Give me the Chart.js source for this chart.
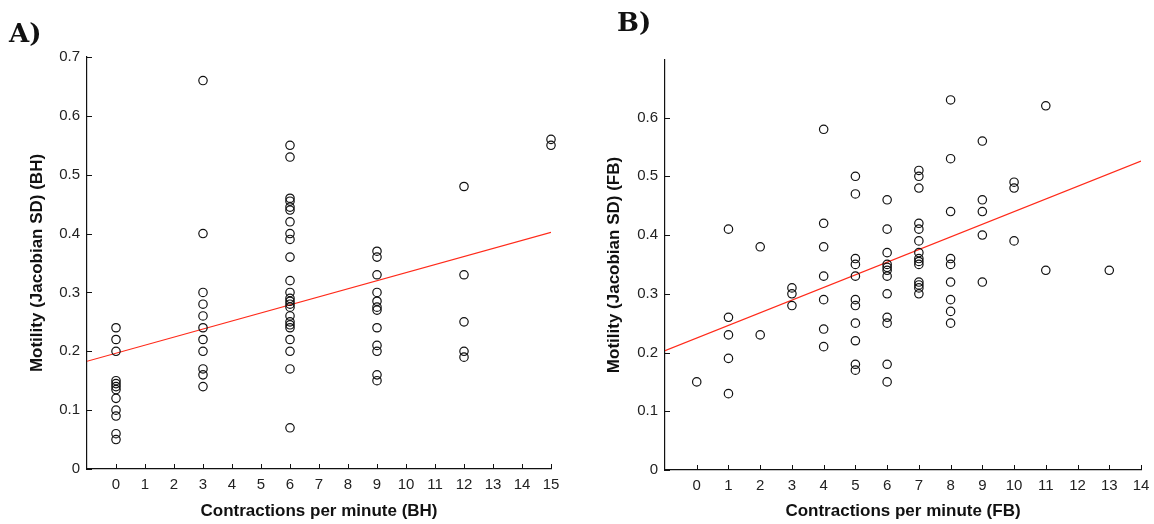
<!DOCTYPE html>
<html>
<head>
<meta charset="utf-8">
<script src="https://cdn.jsdelivr.net/npm/chart.js@4/dist/chart.umd.min.js"></script>
<style>
  body { margin: 0; background: #fff; }
  #wrap { position: relative; width: 1154px; height: 524px; overflow: hidden; }
  .box { position: absolute; top: 0; width: 577px; height: 524px; }
  .tag { position: absolute; font-family: "DejaVu Serif", serif; font-weight: bold; font-size: 26px; color: #111; }
</style>
</head>
<body>
<div id="wrap">
  <div class="box" style="left:0"><canvas id="chartBH"></canvas></div>
  <div class="box" style="left:577px"><canvas id="chartFB"></canvas></div>
  <div class="tag" style="left:9px; top:18px">A)</div>
  <div class="tag" style="left:617px; top:7px">B)</div>
</div>
<script>
// Panel A: contractions per minute (BH) vs motility
const bhX = [
  0,0,0,0,0,0,0,0,0,0,0,0,
  3,3,3,3,3,3,3,3,3,3,3,
  6,6,6,6,6,6,6,6,6,6,6,6,6,6,6,6,6,6,6,6,6,6,6,6,
  9,9,9,9,9,9,9,9,9,9,9,9,
  12,12,12,12,12,
  15,15
];
const bhY = [
  0.24,0.22,0.20,0.15,0.145,0.14,0.135,0.12,0.10,0.09,0.06,0.05,
  0.66,0.40,0.30,0.28,0.26,0.24,0.22,0.20,0.17,0.16,0.14,
  0.55,0.53,0.46,0.455,0.445,0.44,0.42,0.40,0.39,0.36,0.32,0.30,0.29,0.285,0.28,0.275,0.26,0.25,0.245,0.24,0.22,0.20,0.17,0.07,
  0.37,0.36,0.33,0.30,0.285,0.275,0.27,0.24,0.21,0.20,0.16,0.15,
  0.48,0.33,0.25,0.20,0.19,
  0.56,0.55
];
const bhFitX = [-1, 15];
const bhFitY = [0.183, 0.402];

// Panel B: contractions per minute (FB) vs motility
const fbX = [
  0,
  1,1,1,1,1,
  2,2,
  3,3,3,
  4,4,4,4,4,4,4,
  5,5,5,5,5,5,5,5,5,5,5,
  6,6,6,6,6,6,6,6,6,6,6,6,
  7,7,7,7,7,7,7,7,7,7,7,7,7,7,
  8,8,8,8,8,8,8,8,8,
  9,9,9,9,9,
  10,10,10,
  11,11,
  13
];
const fbY = [
  0.15,
  0.41,0.26,0.23,0.19,0.13,
  0.38,0.23,
  0.31,0.30,0.28,
  0.58,0.42,0.38,0.33,0.29,0.24,0.21,
  0.50,0.47,0.36,0.35,0.33,0.29,0.28,0.25,0.22,0.18,0.17,
  0.46,0.41,0.37,0.35,0.345,0.34,0.33,0.30,0.26,0.25,0.18,0.15,
  0.51,0.50,0.48,0.42,0.41,0.39,0.37,0.36,0.355,0.35,0.32,0.315,0.31,0.30,
  0.63,0.53,0.44,0.36,0.35,0.32,0.29,0.27,0.25,
  0.56,0.46,0.44,0.40,0.32,
  0.49,0.48,0.39,
  0.62,0.34,
  0.34
];
const fbFitX = [-1, 14];
const fbFitY = [0.203, 0.526];

const FONT = '"Liberation Sans", Arial, sans-serif';
const TICK_LEN = 5;

function pairs(xs, ys) {
  return xs.map((x, i) => ({ x: x, y: ys[i] }));
}

// matlab style tick marks pointing into the plot
const inwardTicks = {
  id: "inwardTicks",
  afterDraw(chart) {
    const ctx = chart.ctx;
    const xs = chart.scales.x;
    const ys = chart.scales.y;
    const area = chart.chartArea;
    ctx.save();
    ctx.strokeStyle = "#111";
    ctx.lineWidth = 1;
    ctx.beginPath();
    xs.ticks.forEach((t) => {
      const px = Math.round(xs.getPixelForValue(t.value)) + 0.5;
      ctx.moveTo(px, area.bottom);
      ctx.lineTo(px, area.bottom - TICK_LEN);
    });
    ys.ticks.forEach((t) => {
      const py = Math.round(ys.getPixelForValue(t.value)) + 0.5;
      ctx.moveTo(area.left, py);
      ctx.lineTo(area.left + TICK_LEN, py);
    });
    ctx.stroke();
    ctx.restore();
  }
};

function makeChart(id, opts) {
  const ctx = document.getElementById(id).getContext("2d");
  return new Chart(ctx, {
    type: "scatter",
    data: {
      datasets: [
        {
          data: pairs(opts.xs, opts.ys),
          pointStyle: "circle",
          pointRadius: 4.2,
          pointBorderWidth: 1.2,
          borderColor: "#111",
          backgroundColor: "rgba(0,0,0,0)",
          pointHoverRadius: 4.2,
          clip: false
        },
        {
          type: "line",
          data: pairs(opts.fitX, opts.fitY),
          borderColor: "#ff2a1a",
          borderWidth: 1.2,
          pointRadius: 0,
          fill: false
        }
      ]
    },
    plugins: [inwardTicks],
    options: {
      responsive: false,
      animation: false,
      maintainAspectRatio: false,
      layout: { padding: { top: opts.top, right: opts.right, left: 0, bottom: 0 } },
      plugins: { legend: { display: false }, tooltip: { enabled: false } },
      scales: {
        x: {
          type: "linear",
          min: opts.xMin,
          max: opts.xMax,
          afterBuildTicks: (s) => { s.ticks = s.ticks.filter((t) => t.value >= 0); },
          afterFit: (s) => { s.height = opts.xH; s.paddingLeft = 0; s.paddingRight = 0; },
          ticks: { stepSize: 1, autoSkip: false, maxRotation: 0, padding: 7, color: "#222", font: { family: FONT, size: 15 } },
          grid: { drawOnChartArea: false, drawTicks: false },
          border: { color: "#111", width: 1.2 },
          title: { display: true, text: opts.xTitle, color: "#111", padding: { top: 0, bottom: 2 }, font: { family: FONT, size: 17, weight: "bold" } }
        },
        y: {
          min: 0,
          max: opts.yMax,
          afterFit: (s) => { s.width = opts.yW; s.paddingTop = 0; s.paddingBottom = 0; },
          ticks: {
            stepSize: 0.1,
            includeBounds: false,
            padding: 7,
            color: "#222",
            font: { family: FONT, size: 15 },
            callback: (v) => String(Math.round(v * 10) / 10)
          },
          grid: { drawOnChartArea: false, drawTicks: false },
          border: { color: "#111", width: 1.2 },
          title: { display: true, text: opts.yTitle, color: "#111", padding: { top: 27, bottom: 0 }, font: { family: FONT, size: 17, weight: "bold" } }
        }
      }
    }
  });
}

function setup() {
  ["chartBH", "chartFB"].forEach((id) => {
    const c = document.getElementById(id);
    c.width = 577; c.height = 524;
    c.style.width = "577px"; c.style.height = "524px";
  });
  makeChart("chartBH", {
    xs: bhX, ys: bhY, fitX: bhFitX, fitY: bhFitY,
    xMin: -1, xMax: 15, yMax: 0.7,
    top: 57, right: 26, yW: 87, xH: 55,
    xTitle: "Contractions per minute (BH)",
    yTitle: "Motility (Jacobian SD) (BH)"
  });
  makeChart("chartFB", {
    xs: fbX, ys: fbY, fitX: fbFitX, fitY: fbFitY,
    xMin: -1, xMax: 14, yMax: 0.698,
    top: 60, right: 13, yW: 88, xH: 54,
    xTitle: "Contractions per minute (FB)",
    yTitle: "Motility (Jacobian SD) (FB)"
  });
}

document.addEventListener("DOMContentLoaded", setup);
</script>
</body>
</html>
